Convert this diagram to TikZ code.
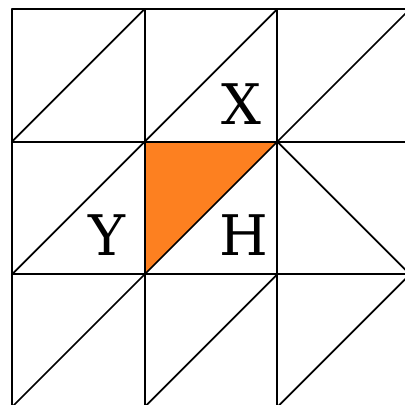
\documentclass[tikz,border=0pt]{standalone}
\usepackage{fontspec}
\setmainfont{DejaVu Serif}
\definecolor{fillorange}{RGB}{253,128,32}
\begin{document}
\begin{tikzpicture}[
  gridline/.style={line width=1.1pt, black, line cap=round, line join=round},
  lbl/.style={inner sep=0pt, font=\fontsize{36}{40}\selectfont}
]
\useasboundingbox (-0.2714,0.0452) rectangle (8.887,9.2035);
\clip (-0.2714,0.0452) rectangle (8.887,9.2035);
\fill[fillorange] (3,6) -- (6,6) -- (3,3) -- cycle;
% grid
\foreach \i in {0,3,6,9} {
  \draw[gridline] (\i,0) -- (\i,9);
  \draw[gridline] (0,\i) -- (9,\i);
}
% diagonals bottom-left to top-right
\foreach \x/\y in {0/6,3/6,6/6,0/3,3/3,0/0,3/0,6/0} {
  \draw[gridline] (\x,\y) -- ++(3,3);
}
% special diagonal
\draw[gridline] (6,6) -- (9,3);
\node[lbl] (X) at (5.178,6.852) {X};
\node[lbl] (Y) at (2.148,3.889) {Y};
\node[lbl] (H) at (5.235,3.889) {H};
\end{tikzpicture}
\end{document}
